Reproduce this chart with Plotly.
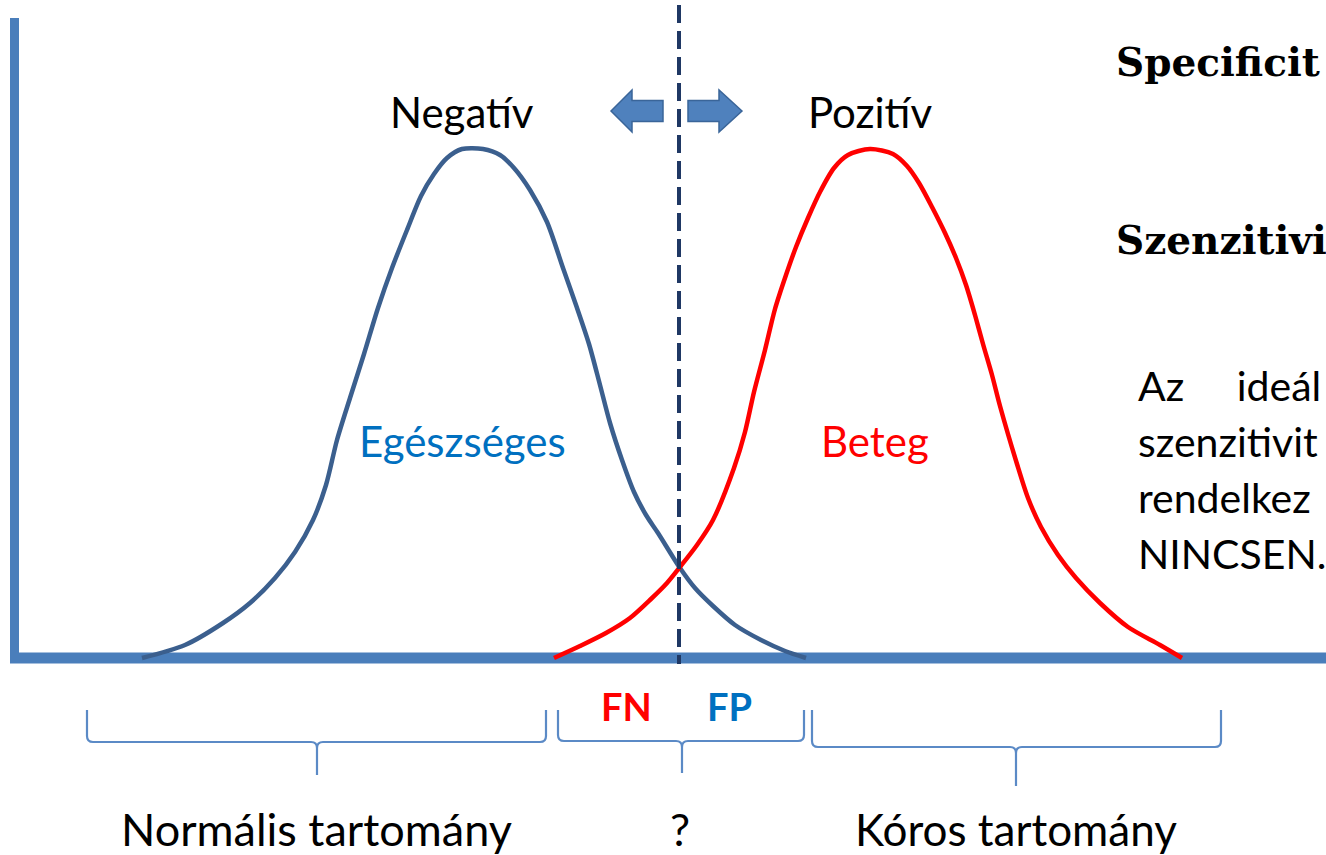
import plotly.graph_objects as go

W, H = 1326, 855
BASE = 658  # pixel row of the baseline

# ---------------- data (x = test value, y = frequency) ----------------
healthy_x = [142, 185, 223, 250, 275, 295, 313, 326, 337, 350, 364, 378, 392, 407, 421, 434, 447, 462,
             483, 500, 514, 530, 547, 563, 576, 589, 600, 610, 622, 634, 646, 658, 680, 695, 713, 735,
             761, 785, 806]
healthy_y = [0, 13, 35, 55, 80, 106, 138, 173, 218, 260, 304, 350, 390, 428, 462, 484, 500, 509,
             509, 503, 490, 468, 436, 390, 353, 314, 273, 235, 198, 166, 143, 125, 90, 70, 52, 33,
             18, 7, 0]

sick_x = [554, 580, 606, 630, 651, 667, 680, 697, 713, 734, 745, 754, 765, 775, 786, 796, 808, 820,
          834, 848, 870, 893, 907, 919, 932, 945, 956, 966, 975, 983, 992, 1000, 1017, 1028, 1041,
          1058, 1076, 1100, 1128, 1160, 1182]
sick_y = [0, 12, 25, 40, 59, 75, 91, 113, 138, 190, 226, 266, 308, 349, 383, 411, 440, 466,
          490, 503, 509, 504, 492, 475, 451, 425, 400, 373, 343, 314, 283, 252, 194, 160, 131,
          103, 80, 55, 31, 13, 0]

cutoff_x = 679

top_labels = ["Negatív", "Pozitív"]
curve_labels = ["Egészséges", "Beteg"]
error_labels = ["FN", "FP"]
range_labels = ["Normális tartomány", "?", "Kóros tartomány"]
# text on the right is cropped by the slide edge in the reference: keep the visible part
side_titles = ["Specificit", "Szenzitivi"]
side_text = ["Az\u00a0\u00a0\u00a0\u00a0\u00a0ideál",
             "szenzitivit",
             "rendelkez",
             "NINCSEN."]

# ---------------- helpers ----------------
def Y(py):
    return BASE - py

AXIS_BLUE = "#4A7EBB"
CURVE_BLUE = "#3B5F8E"
TEXT_BLUE = "#0070C0"
RED = "#FF0000"
NAVY = "#1F3864"
FONT = "Lato"

fig = go.Figure()
fig.add_trace(go.Scatter(x=healthy_x, y=healthy_y, mode="lines",
                         line=dict(color=CURVE_BLUE, width=4.5, shape="spline", smoothing=0.8),
                         hoverinfo="skip"))
fig.add_trace(go.Scatter(x=sick_x, y=sick_y, mode="lines",
                         line=dict(color=RED, width=4.5, shape="spline", smoothing=0.8),
                         hoverinfo="skip"))

shapes = []
# axes
shapes.append(dict(type="line", xref="x", yref="y", x0=14.5, x1=14.5, y0=Y(18), y1=Y(662),
                   line=dict(color=AXIS_BLUE, width=9), layer="below"))
shapes.append(dict(type="line", xref="x", yref="y", x0=10, x1=W + 5, y0=Y(658), y1=Y(658),
                   line=dict(color=AXIS_BLUE, width=11), layer="below"))
# cutoff
shapes.append(dict(type="line", xref="x", yref="y", x0=cutoff_x, x1=cutoff_x, y0=Y(5), y1=Y(664),
                   line=dict(color=NAVY, width=4, dash="18px,8px")))

# arrows
def poly(pts):
    return "M " + " L ".join(f"{x},{Y(y)}" for x, y in pts) + " Z"

left_arrow = [(611, 111), (632, 90), (632, 100.5), (663, 100.5), (663, 121.5), (632, 121.5), (632, 132)]
right_arrow = [(742, 111), (719, 90), (719, 100.5), (688, 100.5), (688, 121.5), (719, 121.5), (719, 132)]
for pts in (left_arrow, right_arrow):
    shapes.append(dict(type="path", xref="x", yref="y", path=poly(pts),
                       fillcolor="#4F81BD", line=dict(color="#3A6599", width=1.5)))

# braces
def brace(x0, x1, xm, yt, yh, yb, r=6):
    p = (f"M {x0},{Y(yt)} L {x0},{Y(yh - r)} Q {x0},{Y(yh)} {x0 + r},{Y(yh)} "
         f"L {xm - r},{Y(yh)} Q {xm},{Y(yh)} {xm},{Y(yh + r)} L {xm},{Y(yb)} "
         f"M {xm},{Y(yh + r)} Q {xm},{Y(yh)} {xm + r},{Y(yh)} "
         f"L {x1 - r},{Y(yh)} Q {x1},{Y(yh)} {x1},{Y(yh - r)} L {x1},{Y(yt)}")
    return dict(type="path", xref="x", yref="y", path=p, line=dict(color="#5B8AC6", width=2.2))

shapes.append(brace(87, 546, 317, 710, 742, 775))
shapes.append(brace(558, 804, 682, 710, 741, 773))
shapes.append(brace(812, 1221, 1016, 710, 747, 786))

ann = []
def text(t, x, py, size=42, color="black", bold=False, family=FONT, xanchor="center"):
    ann.append(dict(text=f"<b>{t}</b>" if bold else t, x=x, y=Y(py), xref="x", yref="y",
                    showarrow=False, xanchor=xanchor, yanchor="middle", borderpad=0,
                    font=dict(family=family, size=size, color=color)))

text(top_labels[0], 462, 112)
text(top_labels[1], 870, 112)
text(curve_labels[0], 462, 441, color=TEXT_BLUE)
text(curve_labels[1], 875, 441, color=RED)
text(error_labels[0], 626, 706, size=38, color=RED, bold=True)
text(error_labels[1], 729, 706, size=38, color=TEXT_BLUE, bold=True)
text(range_labels[0], 316, 829, size=45)
text(range_labels[1], 680, 829, size=45)
text(range_labels[2], 1016, 829, size=44)
text(side_titles[0], 1115, 62, size=39, bold=True, family="DejaVu Serif", xanchor="left")
text(side_titles[1], 1115, 240, size=39, bold=True, family="DejaVu Serif", xanchor="left")
for i, line in enumerate(side_text):
    text(line, 1137, 385 + 56 * i, size=41, xanchor="left")

fig.update_layout(
    width=W, height=H, autosize=False,
    margin=dict(l=0, r=0, t=0, b=0, pad=0),
    paper_bgcolor="white", plot_bgcolor="white",
    showlegend=False,
    xaxis=dict(range=[0, W], visible=False, fixedrange=True),
    yaxis=dict(range=[BASE - H, BASE], visible=False, fixedrange=True),
    shapes=shapes, annotations=ann,
)

fig.write_html("out.html", config={"displayModeBar": False},
               post_script="document.body.style.margin='0';document.body.style.overflow='hidden';")
